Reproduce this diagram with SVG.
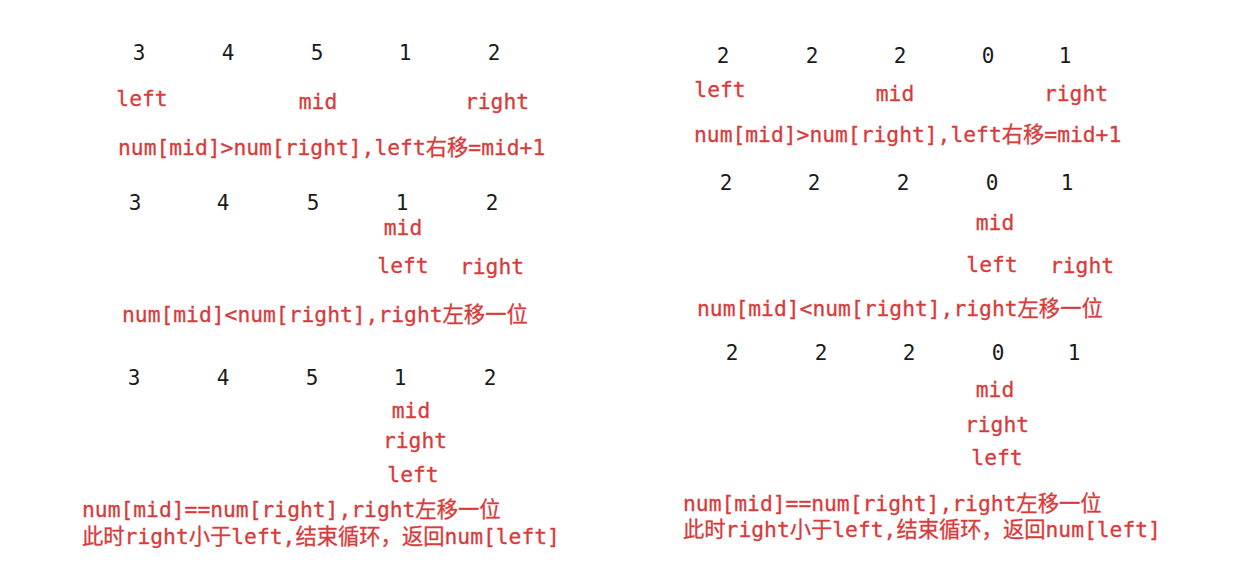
<svg xmlns="http://www.w3.org/2000/svg" width="1240" height="577" viewBox="0 0 1240 577">
<style>
text{font-family:"DejaVu Sans Mono","Noto Sans CJK SC",monospace;font-size:21.3px}
.n{fill:#1a1a1a;font-size:21px;text-anchor:middle}
.r{fill:#d83b3b;stroke:#d83b3b;stroke-width:0.3px}
.c{text-anchor:middle}
</style>
<rect width="1240" height="577" fill="#ffffff"/>
<g id="left-panel">
<g id="L-row1">
<text class="n" x="139" y="60">3</text><text class="n" x="228" y="60">4</text><text class="n" x="317" y="60">5</text><text class="n" x="405" y="60">1</text><text class="n" x="494" y="60">2</text>
<text class="r c" x="142" y="106">left</text><text class="r c" x="318" y="109">mid</text><text class="r c" x="497" y="109">right</text>
<text class="r" x="118" y="155">num[mid]&gt;num[right],left右移=mid+1</text>
</g>
<g id="L-row2">
<text class="n" x="135" y="210">3</text><text class="n" x="223" y="210">4</text><text class="n" x="313" y="210">5</text><text class="n" x="402" y="210">1</text><text class="n" x="492" y="210">2</text>
<text class="r c" x="403" y="235">mid</text><text class="r c" x="403" y="273">left</text><text class="r c" x="492" y="274">right</text>
<text class="r" x="122" y="322">num[mid]&lt;num[right],right左移一位</text>
</g>
<g id="L-row3">
<text class="n" x="134" y="385">3</text><text class="n" x="223" y="385">4</text><text class="n" x="312" y="385">5</text><text class="n" x="400" y="385">1</text><text class="n" x="490" y="385">2</text>
<text class="r c" x="411" y="418">mid</text><text class="r c" x="415" y="448">right</text><text class="r c" x="413" y="482">left</text>
<text class="r" x="82" y="517">num[mid]==num[right],right左移一位</text>
<text class="r" x="82" y="544">此时right小于left,结束循环，返回num[left]</text>
</g>
</g>
<g id="right-panel">
<g id="R-row1">
<text class="n" x="723" y="63">2</text><text class="n" x="812" y="63">2</text><text class="n" x="900" y="63">2</text><text class="n" x="988" y="63">0</text><text class="n" x="1065" y="63">1</text>
<text class="r c" x="720" y="97">left</text><text class="r c" x="895" y="101">mid</text><text class="r c" x="1076" y="101">right</text>
<text class="r" x="694" y="142">num[mid]&gt;num[right],left右移=mid+1</text>
</g>
<g id="R-row2">
<text class="n" x="726" y="190">2</text><text class="n" x="814" y="190">2</text><text class="n" x="903" y="190">2</text><text class="n" x="992" y="190">0</text><text class="n" x="1067" y="190">1</text>
<text class="r c" x="995" y="230">mid</text><text class="r c" x="992" y="272">left</text><text class="r c" x="1082" y="273">right</text>
<text class="r" x="697" y="316">num[mid]&lt;num[right],right左移一位</text>
</g>
<g id="R-row3">
<text class="n" x="732" y="360">2</text><text class="n" x="821" y="360">2</text><text class="n" x="909" y="360">2</text><text class="n" x="998" y="360">0</text><text class="n" x="1074" y="360">1</text>
<text class="r c" x="995" y="397">mid</text><text class="r c" x="997" y="432">right</text><text class="r c" x="997" y="465">left</text>
<text class="r" x="683" y="511">num[mid]==num[right],right左移一位</text>
<text class="r" x="683" y="537">此时right小于left,结束循环，返回num[left]</text>
</g>
</g>
<g id="connectors"/>
</svg>
